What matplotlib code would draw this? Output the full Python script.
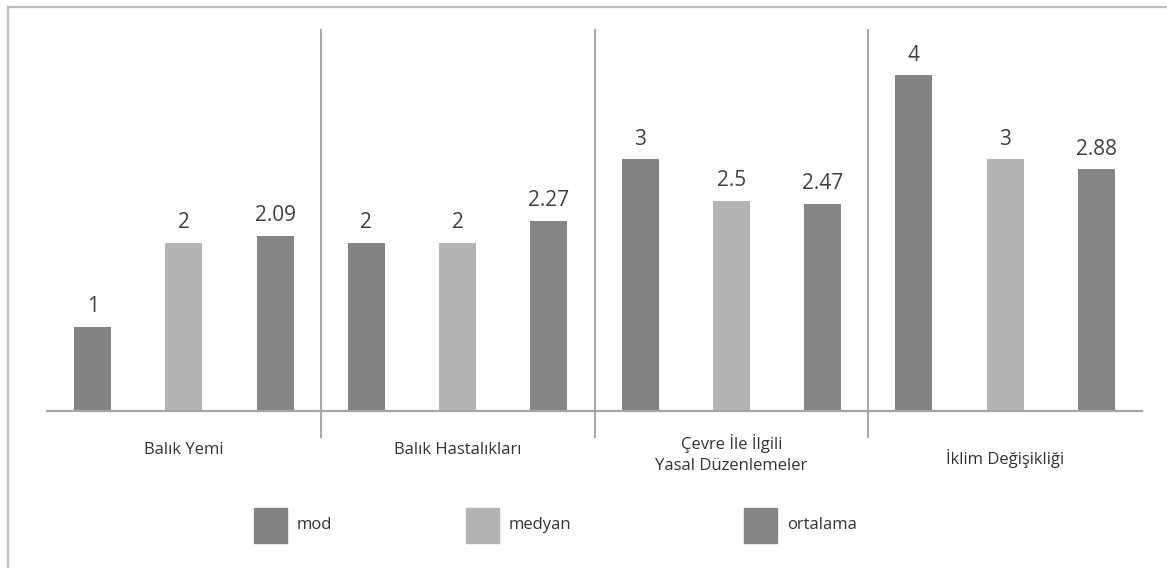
import matplotlib
matplotlib.use("Agg")
import matplotlib.pyplot as plt
from matplotlib.patches import Rectangle
from matplotlib.lines import Line2D
import numpy as np

plt.rcParams['font.family'] = ['Open Sans', 'DejaVu Sans']

categories = ["Balık Yemi", "Balık Hastalıkları", "Çevre İle İlgili\nYasal Düzenlemeler", "İklim Değişikliği"]
series_names = ["mod", "medyan", "ortalama"]
mod = [1, 2, 3, 4]
medyan = [2, 2, 2.5, 3]
ortalama = [2.09, 2.27, 2.47, 2.88]
value_labels = [["1", "2", "3", "4"], ["2", "2", "2.5", "3"], ["2.09", "2.27", "2.47", "2.88"]]

colors = ["#838386", "#b4b4b6", "#858588"]
W, H = 1167, 568
fig = plt.figure(figsize=(W / 100, H / 100), dpi=100)

# outer frame
fig.add_artist(Line2D([8 / W, 8 / W], [0, 1 - 7 / H], transform=fig.transFigure, color="#bdbdbd", lw=1.6))
fig.add_artist(Line2D([8 / W, 1], [1 - 7 / H, 1 - 7 / H], transform=fig.transFigure, color="#bdbdbd", lw=1.6))

ax = fig.add_axes([47 / W, (H - 411) / H, 1095 / W, (411 - 30) / H])
x = np.arange(len(categories))
offs = [-1 / 3, 0, 1 / 3]
bw = 0.135
for s, (vals, c) in enumerate(zip([mod, medyan, ortalama], colors)):
    bars = ax.bar(x + offs[s], vals, width=bw, color=c, zorder=2)
    for b, lab in zip(bars, value_labels[s]):
        ax.annotate(lab, (b.get_x() + b.get_width() / 2, b.get_height()),
                    xytext=(0, 7), textcoords="offset points", ha="center", va="bottom",
                    fontsize=15, color="#404040")

ax.set_xlim(-0.5, len(categories) - 0.5)
ax.set_ylim(0, 4.54)
for sp in ["top", "right", "left"]:
    ax.spines[sp].set_visible(False)
ax.spines["bottom"].set_color("#a6a6a6")
ax.spines["bottom"].set_linewidth(1.6)
ax.set_xticks([])
ax.set_yticks([])

# separators
sep_bottom = -26 / 381
for i in range(1, len(categories)):
    ax.add_line(Line2D([i - 0.5, i - 0.5], [sep_bottom, 1], transform=ax.get_xaxis_transform(),
                       color="#a9a9a9", lw=1.5, clip_on=False))

# category labels
label_y = [-39, -39, -43, -48]
for i, cat in enumerate(categories):
    ax.text(i, label_y[i] / 381, cat, transform=ax.get_xaxis_transform(), ha="center", va="center",
            fontsize=12, color="#333333", linespacing=1.45)

# legend
leg_sq = [254, 466, 744]
for name, c, xs in zip(series_names, colors, leg_sq):
    fig.add_artist(Rectangle((xs / W, (H - 543) / H), 33 / W, 35 / H, transform=fig.transFigure,
                             color=c))
    fig.text((xs + 43) / W, (H - 525) / H, name, ha="left", va="center", fontsize=12, color="#333333")

fig.savefig("out.png", dpi=100)
